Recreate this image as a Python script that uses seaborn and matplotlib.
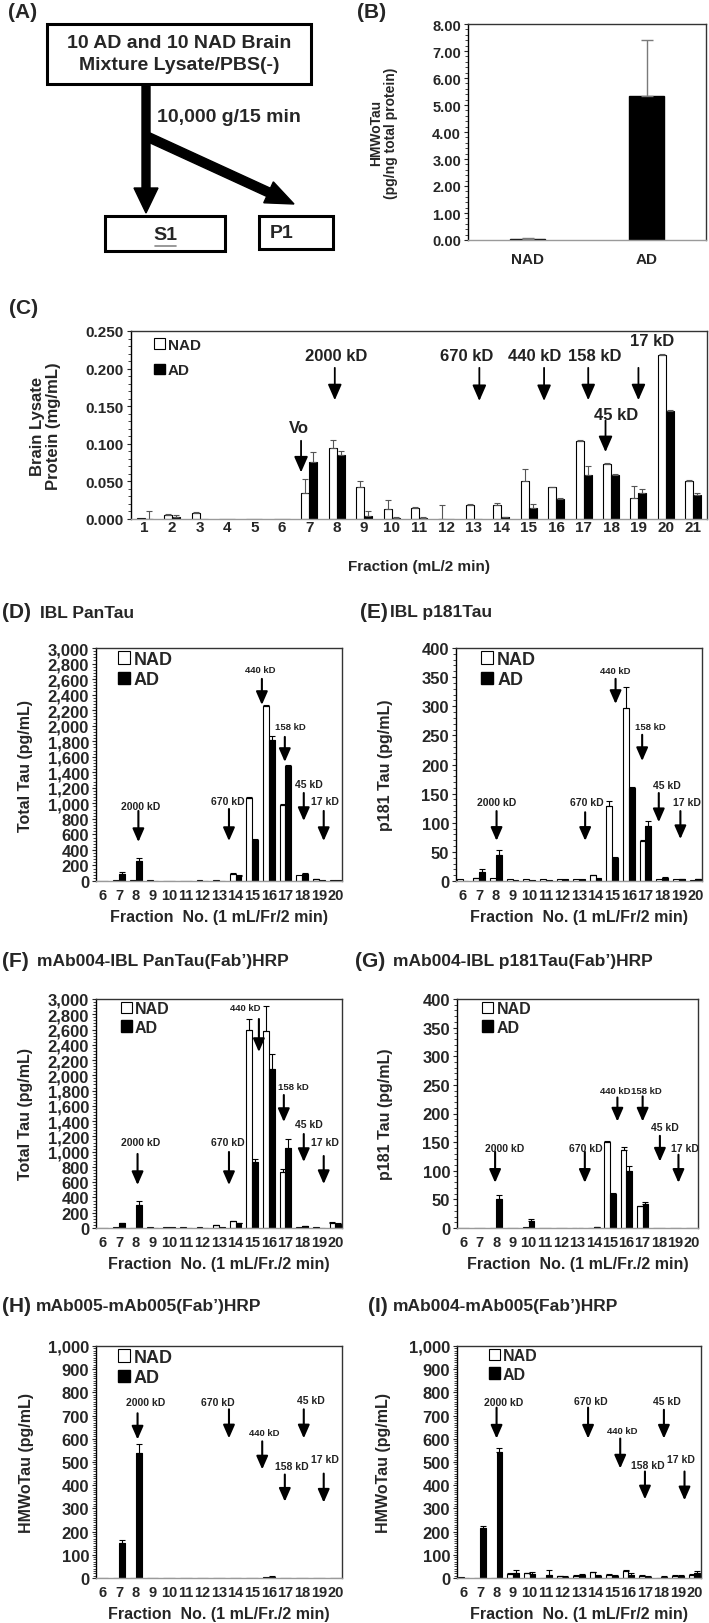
import numpy as np
import pandas as pd
import matplotlib
matplotlib.use("Agg")
import matplotlib.pyplot as plt
import seaborn as sns
from matplotlib.patches import Patch, Rectangle, FancyArrow
from matplotlib.ticker import MultipleLocator, AutoMinorLocator, FuncFormatter

# ---------------- data ----------------
# (B) HMWoTau per total protein
b_groups = ["NAD", "AD"]
b_vals = [0.05, 5.32]
b_err = [0.02, 2.08]

# (C) brain lysate protein per fraction
c_frac = list(range(1, 22))
c_nad = [0.001, 0.005, 0.008, 0, 0, 0, 0.035, 0.094, 0.042, 0.013, 0.014,
         0.000, 0.019, 0.019, 0.050, 0.042, 0.104, 0.073, 0.028, 0.218, 0.051]
c_nad_err = [0, 0.001, 0.001, 0, 0, 0, 0.018, 0.011, 0.008, 0.012, 0.002,
             0.018, 0.001, 0.002, 0.016, 0.001, 0.001, 0.002, 0.016, 0.001, 0.001]
c_ad = [0.000, 0.002, 0, 0, 0, 0, 0.076, 0.085, 0.004, 0.001, 0.001,
        0, 0, 0.002, 0.015, 0.026, 0.058, 0.059, 0.035, 0.143, 0.032]
c_ad_err = [0.010, 0.003, 0, 0, 0, 0, 0.013, 0.005, 0.006, 0.001, 0.001,
            0, 0, 0.001, 0.005, 0.002, 0.012, 0.001, 0.005, 0.002, 0.003]

# (D)-(I) fractions 6..20
fr = list(range(6, 21))

d_nad = [5, 10, 15, 10, 6, 6, 8, 8, 90, 1070, 2250, 980, 75, 25, 10]
d_nad_err = [0, 0, 0, 0, 0, 0, 0, 0, 10, 10, 15, 10, 0, 5, 0]
d_ad = [0, 90, 255, 5, 5, 5, 5, 5, 70, 525, 1810, 1480, 85, 10, 10]
d_ad_err = [0, 30, 35, 0, 0, 0, 0, 0, 5, 15, 60, 15, 20, 0, 0]

e_nad = [3, 5, 5, 3, 3, 4, 4, 4, 10, 128, 297, 68, 3, 3, 2]
e_nad_err = [0, 1, 0, 0, 0, 0, 0, 0, 1, 10, 36, 2, 0, 0, 0]
e_ad = [0, 16, 45, 2, 2, 2, 3, 3, 5, 40, 160, 95, 5, 3, 3]
e_ad_err = [0, 4, 8, 0, 0, 0, 0, 0, 0, 2, 2, 8, 2, 1, 1]

f_nad = [0, 10, 5, 10, 10, 10, 10, 35, 90, 2600, 2580, 730, 10, 10, 70]
f_nad_err = [0, 0, 0, 0, 0, 0, 0, 5, 5, 140, 330, 45, 0, 0, 5]
f_ad = [0, 60, 300, 5, 10, 5, 5, 10, 60, 860, 2080, 1050, 20, 5, 55]
f_ad_err = [0, 10, 55, 0, 0, 0, 0, 0, 5, 40, 200, 120, 5, 0, 5]

g_nad = [0, 0, 0, 0, 1, 0, 0, 0, 0, 150, 137, 38, 0, 0, 0]
g_nad_err = [0, 0, 0, 0, 0, 0, 0, 0, 0, 2, 5, 1, 0, 0, 0]
g_ad = [0, 0, 50, 0, 13, 0, 0, 0, 1.5, 60, 100, 42, 0, 0, 0]
g_ad_err = [0, 0, 8, 0, 3, 0, 0, 0, 1, 1, 8, 3, 0, 0, 0]

h_nad = [0, 0, 0, 0, 0, 0, 0, 0, 0, 2, 5, 0, 0, 0, 0]
h_nad_err = [0] * 15
h_ad = [0, 150, 540, 0, 0, 0, 0, 0, 0, 0, 5, 0, 0, 0, 0]
h_ad_err = [0, 12, 38, 0, 0, 0, 0, 0, 0, 0, 3, 0, 0, 0, 0]

i_nad = [3, 0, 0, 18, 20, 0, 8, 10, 25, 15, 30, 10, 0, 10, 15]
i_nad_err = [0, 0, 0, 3, 3, 0, 2, 2, 3, 2, 5, 2, 0, 2, 3]
i_ad = [0, 215, 545, 22, 18, 15, 3, 12, 8, 8, 15, 5, 5, 10, 22]
i_ad_err = [0, 7, 14, 11, 7, 18, 5, 5, 5, 3, 5, 3, 5, 3, 8]

# ---------------- style ----------------
sns.set_theme(style="ticks")
plt.rcParams["font.family"] = ["Liberation Sans", "DejaVu Sans"]
plt.rcParams["font.weight"] = "bold"
plt.rcParams["axes.labelweight"] = "bold"
plt.rcParams["axes.edgecolor"] = "black"

W, H = 709, 1624
fig = plt.figure(figsize=(W / 100, H / 100), dpi=100)


def px_axes(l, t, r, b):
    return fig.add_axes([l / W, 1 - b / H, (r - l) / W, (b - t) / H])


def fig_text(x, y, s, **kw):
    fig.text(x / W, 1 - y / H, s, **kw)


def style_axes(ax, ytick_size, xtick_size):
    for side in ["left", "top", "right"]:
        ax.spines[side].set_color("#333333")
        ax.spines[side].set_linewidth(1.0)
    ax.spines["left"].set_color("black")
    ax.spines["bottom"].set_color("#9a9a9a")
    ax.spines["bottom"].set_linewidth(1.0)
    ax.tick_params(axis="y", which="major", direction="out", length=3, width=0.8,
                   labelsize=ytick_size, pad=2)
    ax.tick_params(axis="y", which="minor", direction="out", length=2, width=0.6)
    ax.tick_params(axis="x", length=0, labelsize=xtick_size)
    for lab in ax.get_xticklabels() + ax.get_yticklabels():
        lab.set_fontweight("bold")


def bars_with_err(ax, fracs, nad, nad_err, ad, ad_err, width, ecolor="black"):
    labels = [str(f) for f in fracs]
    df = pd.DataFrame({"Fraction": labels * 2,
                       "Group": ["NAD"] * len(fracs) + ["AD"] * len(fracs),
                       "Value": list(nad) + list(ad)})
    sns.barplot(data=df, x="Fraction", y="Value", hue="Group", order=labels,
                hue_order=["NAD", "AD"], palette={"NAD": "white", "AD": "black"},
                edgecolor="black", linewidth=0.8, width=width, errorbar=None,
                legend=False, ax=ax)
    for cont, err in zip(ax.containers, [nad_err, ad_err]):
        xs, ys, es = [], [], []
        for bar, e in zip(cont, err):
            if e > 0:
                xs.append(bar.get_x() + bar.get_width() / 2)
                ys.append(bar.get_height())
                es.append(e)
        if xs:
            ax.errorbar(xs, ys, yerr=[np.zeros(len(es)), es], fmt="none",
                        ecolor=ecolor, elinewidth=0.8, capsize=2.3, capthick=0.8)


def legend(ax, x, fs, spacing=0.2, pad=0.15):
    handles = [Patch(facecolor="white", edgecolor="black", linewidth=0.8),
               Patch(facecolor="black", edgecolor="black")]
    ax.legend(handles, ["NAD", "AD"], loc="upper left", bbox_to_anchor=(x, 1.0),
              frameon=False, prop={"weight": "bold", "size": fs},
              handlelength=0.7, handleheight=0.7, handletextpad=0.2,
              labelspacing=spacing, borderpad=pad, borderaxespad=0)


def kd(ax, label, xa, xt, yt, y0, y1, offset, size=7.5, lw=1.5, ms=10):
    ax.annotate("", xy=(xa - offset, y1), xytext=(xa - offset, y0),
                arrowprops=dict(arrowstyle="-|>,head_width=0.35,head_length=0.8",
                                color="black", lw=lw, shrinkA=0, shrinkB=0,
                                mutation_scale=ms))
    ax.text(xt - offset, yt, label, ha="center", va="center", fontsize=size,
            color="#222222", fontweight="bold")


# ---------------- (A) flow chart ----------------
ax_a = px_axes(0, 0, 360, 280)
ax_a.set_xlim(0, 360)
ax_a.set_ylim(280, 0)
ax_a.axis("off")
ax_a.add_patch(Rectangle((47, 25), 264, 60, fill=False, lw=2.2, ec="black"))
ax_a.text(179, 44, "10 AD and 10 NAD Brain", ha="center", va="center", fontsize=14)
ax_a.text(179, 66, "Mixture Lysate/PBS(-)", ha="center", va="center", fontsize=14)
ax_a.add_patch(FancyArrow(146, 87, 0, 127, width=8, head_width=24, head_length=25,
                          length_includes_head=True, color="black"))
ax_a.add_patch(FancyArrow(148, 138, 146, 67, width=9, head_width=23, head_length=28,
                          length_includes_head=True, color="black"))
ax_a.text(157, 118, "10,000 g/15 min", ha="left", va="center", fontsize=14)
ax_a.add_patch(Rectangle((105, 217), 120, 35, fill=False, lw=2.2, ec="black"))
ax_a.text(165, 235, "S1", ha="center", va="center", fontsize=14)
ax_a.plot([155, 176], [247, 247], color="#888888", lw=1.2)
ax_a.add_patch(Rectangle((259, 217), 74, 33, fill=False, lw=2.2, ec="black"))
ax_a.text(270, 234, "P1", ha="left", va="center", fontsize=14)
fig_text(8, 13, "(A)", ha="left", va="center", fontsize=15)

# ---------------- (B) ----------------
fig_text(357, 13, "(B)", ha="left", va="center", fontsize=15)
ax_b = px_axes(468, 25, 706, 241)
sns.barplot(x=b_groups, y=b_vals, color="black", width=0.3, errorbar=None,
            edgecolor="black", ax=ax_b)
bx = [p.get_x() + p.get_width() / 2 for p in ax_b.patches]
ax_b.errorbar(bx, b_vals, yerr=[np.zeros(2), b_err], fmt="none", ecolor="#7a7a7a",
              elinewidth=1.0, capsize=4, capthick=1.0)
ax_b.set_xlim(-0.5, 1.5)
ax_b.set_ylim(0, 8)
ax_b.yaxis.set_major_locator(MultipleLocator(1))
ax_b.yaxis.set_minor_locator(AutoMinorLocator(5))
ax_b.yaxis.set_major_formatter(FuncFormatter(lambda v, p: f"{v:.2f}"))
style_axes(ax_b, 10.5, 11)
ax_b.tick_params(axis="x", pad=9)
ax_b.set_ylabel("HMWoTau\n(pg/ng total protein)", fontsize=10, linespacing=1.1)
ax_b.yaxis.set_label_coords(-0.294, 0.5)

# ---------------- (C) ----------------
fig_text(9, 308, "(C)", ha="left", va="center", fontsize=15)
ax_c = px_axes(131, 332, 707, 520)
bars_with_err(ax_c, c_frac, c_nad, c_nad_err, c_ad, c_ad_err, width=0.58,
              ecolor="#555555")
ax_c.set_xlim(-0.5, 20.5)
ax_c.set_ylim(0, 0.25)
ax_c.yaxis.set_major_locator(MultipleLocator(0.05))
ax_c.yaxis.set_minor_locator(AutoMinorLocator(5))
ax_c.yaxis.set_major_formatter(FuncFormatter(lambda v, p: f"{v:.3f}"))
style_axes(ax_c, 11, 11)
ax_c.tick_params(axis="x", pad=1)
ax_c.set_xlabel("Fraction (mL/2 min)", fontsize=11, labelpad=18)
ax_c.set_ylabel("Brain Lysate\nProtein (mg/mL)", fontsize=12, linespacing=1.1)
ax_c.yaxis.set_label_coords(-0.122, 0.5)
legend(ax_c, 0.028, 11, spacing=0.75, pad=0.45)
c_marks = [("Vo", 6.7, 6.62, 0.122, 0.104, 0.062),
           ("2000 kD", 7.93, 7.97, 0.2176, 0.201, 0.158),
           ("670 kD", 13.2, 12.75, 0.2176, 0.201, 0.157),
           ("440 kD", 15.56, 15.2, 0.2176, 0.201, 0.157),
           ("158 kD", 17.17, 17.4, 0.2176, 0.201, 0.158),
           ("45 kD", 17.8, 18.2, 0.1385, 0.131, 0.089),
           ("17 kD", 19.0, 19.5, 0.2376, 0.201, 0.158)]
for m in c_marks:
    kd(ax_c, *m, offset=1, size=12, lw=1.3, ms=12)

# ---------------- (D)-(I) ----------------
LEFT = (96, 342)
RIGHT = (457, 701)
ROWS = [(649, 882), (1000, 1229), (1347, 1579)]

panels = [
    dict(tag="(D)", title="IBL PanTau", col=LEFT, row=ROWS[0], tx=(2, 40), ty=613,
         data=(d_nad, d_nad_err, d_ad, d_ad_err), ymax=3000, step=200, minor=5,
         ylabel="Total Tau (pg/mL)", xlabel="Fraction  No. (1 mL/Fr/2 min)",
         lab_x=-0.256, leg=(0.077, 13),
         marks=[("2000 kD", 8.15, 8.3, 966, 902, 502),
                ("670 kD", 13.6, 13.55, 1030, 927, 515),
                ("440 kD", 15.58, 15.46, 2718, 2602, 2267, 6.8),
                ("158 kD", 16.96, 17.3, 1983, 1855, 1533, 6.8),
                ("45 kD", 18.1, 18.4, 1250, 1133, 773),
                ("17 kD", 19.3, 19.4, 1030, 902, 515)]),
    dict(tag="(E)", title="IBL p181Tau", col=(456, 702), row=ROWS[0], tx=(360, 390), ty=613,
         data=(e_nad, e_nad_err, e_ad, e_ad_err), ymax=400, step=50, minor=5,
         ylabel="p181 Tau (pg/mL)", xlabel="Fraction  No. (1 mL/Fr/2 min)",
         lab_x=-0.256, leg=(0.09, 13),
         marks=[("2000 kD", 8.04, 8.04, 136, 120, 69),
                ("670 kD", 13.37, 13.5, 136, 118, 69),
                ("440 kD", 15.2, 15.2, 362, 347, 304, 6.8),
                ("158 kD", 16.8, 17.3, 266, 251, 206, 6.8),
                ("45 kD", 17.8, 18.3, 165, 151, 101),
                ("17 kD", 19.1, 19.5, 136, 120, 72)]),
    dict(tag="(F)", title="mAb004-IBL PanTau(Fab’)HRP", col=LEFT, row=ROWS[1], tx=(2, 37), ty=962,
         data=(f_nad, f_nad_err, f_ad, f_ad_err), ymax=3000, step=200, minor=5,
         ylabel="Total Tau (pg/mL)", xlabel="Fraction  No. (1 mL/Fr./2 min)",
         lab_x=-0.256, leg=(0.09, 11.5),
         marks=[("2000 kD", 8.1, 8.3, 1127, 970, 563),
                ("670 kD", 13.6, 13.55, 1127, 996, 563),
                ("440 kD", 15.4, 14.6, 2895, 2738, 2306, 6.8),
                ("158 kD", 16.9, 17.45, 1860, 1742, 1389, 6.8),
                ("45 kD", 18.1, 18.4, 1362, 1231, 865),
                ("17 kD", 19.3, 19.4, 1127, 943, 576)]),
    dict(tag="(G)", title="mAb004-IBL p181Tau(Fab’)HRP", col=(457, 698), row=ROWS[1], tx=(355, 393), ty=962,
         data=(g_nad, g_nad_err, g_ad, g_ad_err), ymax=400, step=50, minor=5,
         ylabel="p181 Tau (pg/mL)", xlabel="Fraction  No. (1 mL/Fr./2 min)",
         lab_x=-0.266, leg=(0.095, 11.5),
         marks=[("2000 kD", 7.94, 8.5, 140, 133, 79),
                ("670 kD", 13.45, 13.5, 140, 133, 79),
                ("440 kD", 15.45, 15.3, 240, 228, 186, 6.8),
                ("158 kD", 17.0, 17.2, 240, 230, 186, 6.8),
                ("45 kD", 18.06, 18.36, 177, 161, 116),
                ("17 kD", 19.2, 19.6, 140, 128, 79)]),
    dict(tag="(H)", title="mAb005-mAb005(Fab’)HRP", col=LEFT, row=ROWS[2], tx=(2, 36), ty=1307,
         data=(h_nad, h_nad_err, h_ad, h_ad_err), ymax=1000, step=100, minor=10,
         ylabel="HMWoTau (pg/mL)", xlabel="Fraction  No. (1 mL/Fr./2 min)",
         lab_x=-0.252, leg=(0.077, 13),
         marks=[("2000 kD", 8.1, 8.6, 758, 710, 597),
                ("670 kD", 13.6, 12.9, 758, 727, 602),
                ("440 kD", 15.6, 15.7, 628, 589, 468, 6.8),
                ("158 kD", 16.96, 17.4, 481, 446, 329),
                ("45 kD", 18.1, 18.55, 766, 727, 602),
                ("17 kD", 19.3, 19.35, 515, 450, 325)]),
    dict(tag="(I)", title="mAb004-mAb005(Fab’)HRP", col=RIGHT, row=ROWS[2], tx=(368, 393), ty=1307,
         data=(i_nad, i_nad_err, i_ad, i_ad_err), ymax=1000, step=100, minor=10,
         ylabel="HMWoTau (pg/mL)", xlabel="Fraction  No. (1 mL/Fr/2 min)",
         lab_x=-0.27, leg=(0.12, 11.5),
         marks=[("2000 kD", 8.0, 8.4, 760, 734, 601),
                ("670 kD", 13.55, 13.7, 764, 734, 601),
                ("440 kD", 15.5, 15.6, 635, 601, 472, 6.8),
                ("158 kD", 17.0, 17.15, 485, 459, 339),
                ("45 kD", 18.15, 18.3, 764, 725, 601),
                ("17 kD", 19.4, 19.2, 515, 459, 335)]),
]

for p in panels:
    ax = px_axes(p["col"][0], p["row"][0], p["col"][1], p["row"][1])
    bars_with_err(ax, fr, *p["data"], width=0.7)
    ax.set_xlim(-0.4, 14.4)
    ax.set_ylim(0, p["ymax"])
    ax.yaxis.set_major_locator(MultipleLocator(p["step"]))
    ax.yaxis.set_minor_locator(AutoMinorLocator(p["minor"]))
    ax.yaxis.set_major_formatter(FuncFormatter(lambda v, q: f"{v:,.0f}"))
    style_axes(ax, 12, 10.5)
    ax.tick_params(axis="x", pad=5)
    ax.set_xlabel(p["xlabel"], fontsize=11.5, labelpad=5)
    ax.set_ylabel(p["ylabel"], fontsize=11.5)
    ax.yaxis.set_label_coords(p["lab_x"], 0.5)
    legend(ax, p["leg"][0], p["leg"][1])
    for m in p["marks"]:
        size = m[6] if len(m) > 6 else 7.5
        kd(ax, *m[:6], offset=6, size=size)
    fig_text(p["tx"][0], p["ty"], p["tag"], ha="left", va="center", fontsize=15)
    fig_text(p["tx"][1], p["ty"], p["title"], ha="left", va="center", fontsize=12.5)

fig.savefig("out.png", dpi=100)
